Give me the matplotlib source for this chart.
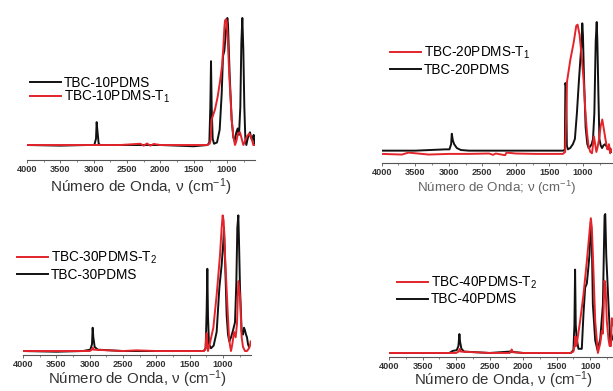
import numpy as np
import matplotlib
matplotlib.use('Agg')
import matplotlib.pyplot as plt
from matplotlib.ticker import MultipleLocator

plt.rcParams['font.family'] = ['Liberation Sans', 'DejaVu Sans']
plt.rcParams['mathtext.fontset'] = 'custom'
plt.rcParams['mathtext.rm'] = 'Liberation Sans'
plt.rcParams['mathtext.it'] = 'Liberation Sans:italic'

# ---- spectra (wavenumber, normalised intensity) ----
# TBC-10PDMS / TBC-10PDMS-T1
wn_10 = [4000, 3500, 3100, 2990, 2965, 2955, 2945, 2925, 2900, 2500, 2000, 1500,
         1290, 1265, 1250, 1240, 1230, 1215, 1195, 1150, 1110, 1080, 1060, 1040,
         1015, 995, 985, 960, 930, 905, 885, 860, 840, 820, 800, 785, 770, 755,
         740, 725, 710, 690, 670, 655, 640, 620, 600, 585]
ab_10 = [0, -0.005, 0, 0, 0.05, 0.18, 0.12, 0.01, 0, 0, 0, -0.01,
         0, 0.02, 0.3, 0.66, 0.3, 0.05, 0.01, 0.02, 0.12, 0.4, 0.7, 0.74,
         0.9, 1.0, 0.95, 0.55, 0.2, 0.06, 0.03, 0.1, 0.13, 0.08, 0.3, 0.8, 1.0, 0.75,
         0.3, 0.05, 0.0, 0.05, 0.08, 0.1, 0.06, 0.04, 0.08, 0.0]
wn_10t = [4000, 3500, 3000, 2600, 2300, 2250, 2200, 2150, 2100, 2000, 1700, 1500,
          1300, 1260, 1245, 1230, 1180, 1140, 1105, 1075, 1055, 1040, 1030, 1015,
          1005, 990, 965, 945, 930, 905, 880, 860, 835, 805, 780, 755, 730, 700,
          665, 640, 620, 605, 590]
ab_10t = [0, 0, 0, 0, 0.01, -0.005, 0.012, -0.005, 0.008, 0, 0, 0,
          0, 0.01, 0.04, 0.2, 0.28, 0.38, 0.5, 0.62, 0.77, 0.92, 0.98, 0.99,
          0.97, 0.85, 0.54, 0.35, 0.2, 0.07, 0.0, 0.03, 0.09, 0.1, 0.05, 0.0, 0.03, 0.07,
          0.09, 0.06, 0.03, 0.0, 0.0]

# TBC-20PDMS / TBC-20PDMS-T1
wn_20 = [4000, 3500, 3050, 2990, 2965, 2955, 2940, 2920, 2880, 2820, 2700, 2500,
         2000, 1500, 1290, 1270, 1262, 1250, 1240, 1225, 1190, 1150, 1120, 1090,
         1060, 1040, 1020, 1010, 1000, 985, 960, 935, 915, 895, 870, 850, 830,
         810, 795, 785, 770, 755, 735, 715, 695, 670, 645, 620, 600, 580]
ab_20 = [0.01, 0.01, 0.02, 0.02, 0.06, 0.14, 0.09, 0.06, 0.03, 0.015, 0.01, 0.01,
         0.01, 0.01, 0.01, 0.02, 0.53, 0.5, 0.05, 0.02, 0.03, 0.06, 0.1, 0.3,
         0.55, 0.7, 0.85, 0.99, 0.9, 0.58, 0.19, 0.06, 0.03, 0.04, 0.06, 0.10, 0.3,
         0.85, 1.0, 0.85, 0.45, 0.1, 0.05, 0.03, 0.05, 0.06, 0.04, 0.02, 0.03, 0.0]
wn_20t = [4000, 3700, 3600, 3300, 3000, 2700, 2400, 2340, 2300, 2160, 2140, 2000,
          1700, 1500, 1300, 1265, 1250, 1238, 1188, 1139, 1100, 1080, 1050, 1015,
          990, 965, 940, 915, 890, 865, 836, 815, 800, 780, 760, 735, 712, 690,
          665, 637, 620, 612, 595, 575]
ab_20t = [-0.015, -0.02, -0.005, -0.02, -0.015, -0.015, -0.012, -0.022, -0.012, -0.025, -0.005, -0.012,
          -0.015, -0.015, -0.015, 0.0, 0.3, 0.54, 0.71, 0.84, 0.97, 0.98, 0.9, 0.71,
          0.55, 0.32, 0.15, 0.04, 0.0, -0.01, 0.12, 0.05, 0.0, 0.04, 0.1, 0.2, 0.25, 0.18,
          0.1, 0.02, 0.03, 0.06, -0.01, 0.02]

# TBC-30PDMS / TBC-30PDMS-T2
wn_30 = [4000, 3500, 3100, 2990, 2965, 2955, 2945, 2925, 2880, 2500, 2000, 1500,
         1290, 1260, 1245, 1235, 1225, 1210, 1180, 1140, 1095, 1055, 1020, 995,
         985, 965, 945, 925, 905, 880, 850, 820, 800, 785, 770, 760, 745, 720,
         700, 685, 670, 655, 640, 625, 610]
ab_30 = [0, -0.005, 0, 0.01, 0.05, 0.17, 0.1, 0.03, 0.01, 0, 0, 0,
         0, 0.02, 0.3, 0.6, 0.25, 0.05, 0.02, 0.04, 0.14, 0.46, 0.63, 0.8,
         0.9, 0.6, 0.26, 0.12, 0.07, 0.1, 0.15, 0.21, 0.5, 0.9, 0.99, 0.8, 0.46, 0.14,
         0.12, 0.17, 0.15, 0.12, 0.1, 0.05, 0.03]
wn_30t = [4000, 3000, 2965, 2955, 2940, 2500, 2300, 2000, 1700, 1500, 1290, 1265,
          1255, 1245, 1235, 1225, 1200, 1145, 1095, 1045, 1020, 1005, 990, 970,
          935, 910, 895, 880, 860, 835, 810, 790, 770, 745, 720, 700, 670, 640,
          610, 595, 585]
ab_30t = [0, 0, 0.01, 0.025, 0.01, 0, 0.005, 0, 0, 0, 0, 0.01,
          0.08, 0.13, 0.05, 0.0, 0.05, 0.17, 0.41, 0.7, 0.9, 0.99, 0.95, 0.7,
          0.34, 0.1, 0.04, 0.0, 0.05, 0.14, 0.1, 0.2, 0.51, 0.4, 0.1, 0.03, 0.0, 0.0,
          0.02, 0.04, 0.07]

# TBC-40PDMS / TBC-40PDMS-T2
wn_40 = [4000, 3500, 3100, 3050, 2990, 2965, 2950, 2940, 2920, 2880, 2500, 2200,
         2000, 1500, 1290, 1250, 1235, 1225, 1215, 1200, 1175, 1125, 1100, 1075,
         1050, 1030, 1010, 990, 975, 960, 925, 890, 850, 810, 795, 785, 775, 760,
         727, 700, 670, 640]
ab_40 = [0, 0, 0.0, 0.015, 0.02, 0.05, 0.136, 0.08, 0.03, 0.01, 0, 0.01,
         0, 0, 0, 0.02, 0.2, 0.6, 0.2, 0.1, 0.03, 0.03, 0.28, 0.47,
         0.5, 0.6, 0.71, 0.94, 0.8, 0.35, 0.09, 0.02, 0.1, 0.35, 0.75, 0.99, 1.0, 0.7,
         0.35, 0.08, 0.1, 0.15]
wn_40t = [4000, 3500, 3000, 2960, 2945, 2930, 2500, 2200, 2170, 2150, 2000, 1700,
          1500, 1290, 1250, 1230, 1220, 1210, 1198, 1150, 1100, 1050, 1010, 990,
          975, 960, 925, 885, 850, 825, 810, 787, 770, 752, 727, 710, 690, 677, 660]
ab_40t = [0, 0, 0, 0.01, 0.03, 0.01, 0, 0, 0.025, 0.005, 0, 0,
          0, 0, 0.01, 0.06, 0.12, 0.05, 0.07, 0.23, 0.42, 0.66, 0.87, 0.97,
          0.9, 0.71, 0.23, 0.0, 0.07, 0.16, 0.14, 0.52, 0.47, 0.23, 0.1, 0.05, 0.05, 0.25, 0.2]

RED = '#e3242b'
BLACK = '#111111'

W, H = 613, 391
fig = plt.figure(figsize=(W/100, H/100), dpi=100)

def px_axes(x0, x1, ytop, ybot):
    return fig.add_axes([x0/W, 1-ybot/H, (x1-x0)/W, (ybot-ytop)/H])

panels = [
    # axes box px, ylim, xlim-right, series (black, red), legend
    dict(box=(27, 255, 12, 160), ylim=(-0.118, 1.047), xr=580,
         black=(wn_10, ab_10, 'TBC-10PDMS'), red=(wn_10t, ab_10t, 'TBC-10PDMS-T$_1$'),
         order='br', leg=(30, 90.5), lsp=-0.05,
         xlabel='Número de Onda, ν (cm$^{-1}$)', xlc='#333333', xls=11, lp=1.5),
    dict(box=(381.7, 612, 15, 163), ylim=(-0.085, 1.054), xr=567,
         black=(wn_20, ab_20, 'TBC-20PDMS'), red=(wn_20t, ab_20t, 'TBC-20PDMS-T$_1$'),
         order='rb', leg=(390, 61), lsp=0.15,
         xlabel='Número de Onda; ν (cm$^{-1}$)', xlc='#666666', xls=9.6, lp=1.5),
    dict(box=(23, 251, 210, 355), ylim=(-0.029, 1.029), xr=580,
         black=(wn_30, ab_30, 'TBC-30PDMS'), red=(wn_30t, ab_30t, 'TBC-30PDMS-T$_2$'),
         order='rb', leg=(17, 266), lsp=0.15,
         xlabel='Número de Onda, ν (cm$^{-1}$)', xlc='#333333', xls=10.8, lp=-0.5),
    dict(box=(389, 617, 210, 357), ylim=(-0.029, 1.029), xr=600,
         black=(wn_40, ab_40, 'TBC-40PDMS'), red=(wn_40t, ab_40t, 'TBC-40PDMS-T$_2$'),
         order='rb', leg=(397, 290.5), lsp=0.1,
         xlabel='Número de Onda, ν (cm$^{-1}$)', xlc='#333333', xls=10.8, lp=-1.0),
]

for p in panels:
    x0, x1, yt, yb = p['box']
    ax = px_axes(x0, x1, yt, yb)
    wb, ib, lb = p['black']
    wr, ir, lr = p['red']
    hb, = ax.plot(wb, ib, color=BLACK, lw=1.4, label=lb)
    hr, = ax.plot(wr, ir, color=RED, lw=1.4, label=lr)
    ax.set_xlim(4000, p['xr'])
    ax.set_ylim(*p['ylim'])
    for s in ['left', 'right', 'top']:
        ax.spines[s].set_visible(False)
    ax.spines['bottom'].set_color('#555555')
    ax.spines['bottom'].set_linewidth(0.8)
    ax.set_yticks([])
    ax.xaxis.set_major_locator(MultipleLocator(500))
    ax.xaxis.set_minor_locator(MultipleLocator(250))
    ax.tick_params(axis='x', which='major', length=2.5, width=0.6, color='#555555',
                   labelsize=6.6, labelcolor='#333333', pad=1.2)
    ax.tick_params(axis='x', which='minor', length=1.5, width=0.5, color='#555555')
    for t in ax.get_xticklabels():
        t.set_fontweight('bold')
    ax.set_xlabel(p['xlabel'], fontsize=p['xls'], color=p['xlc'], labelpad=p['lp'])
    handles = [hb, hr] if p['order'] == 'br' else [hr, hb]
    lx, ly = p['leg']
    ax.legend(handles=handles, loc='center left', bbox_to_anchor=(lx/W, 1-ly/H),
              bbox_transform=fig.transFigure, frameon=False, fontsize=9.8,
              borderpad=0, borderaxespad=0, handlelength=2.3, handletextpad=0.2,
              labelspacing=p['lsp'])

fig.savefig('out.png', dpi=100)
